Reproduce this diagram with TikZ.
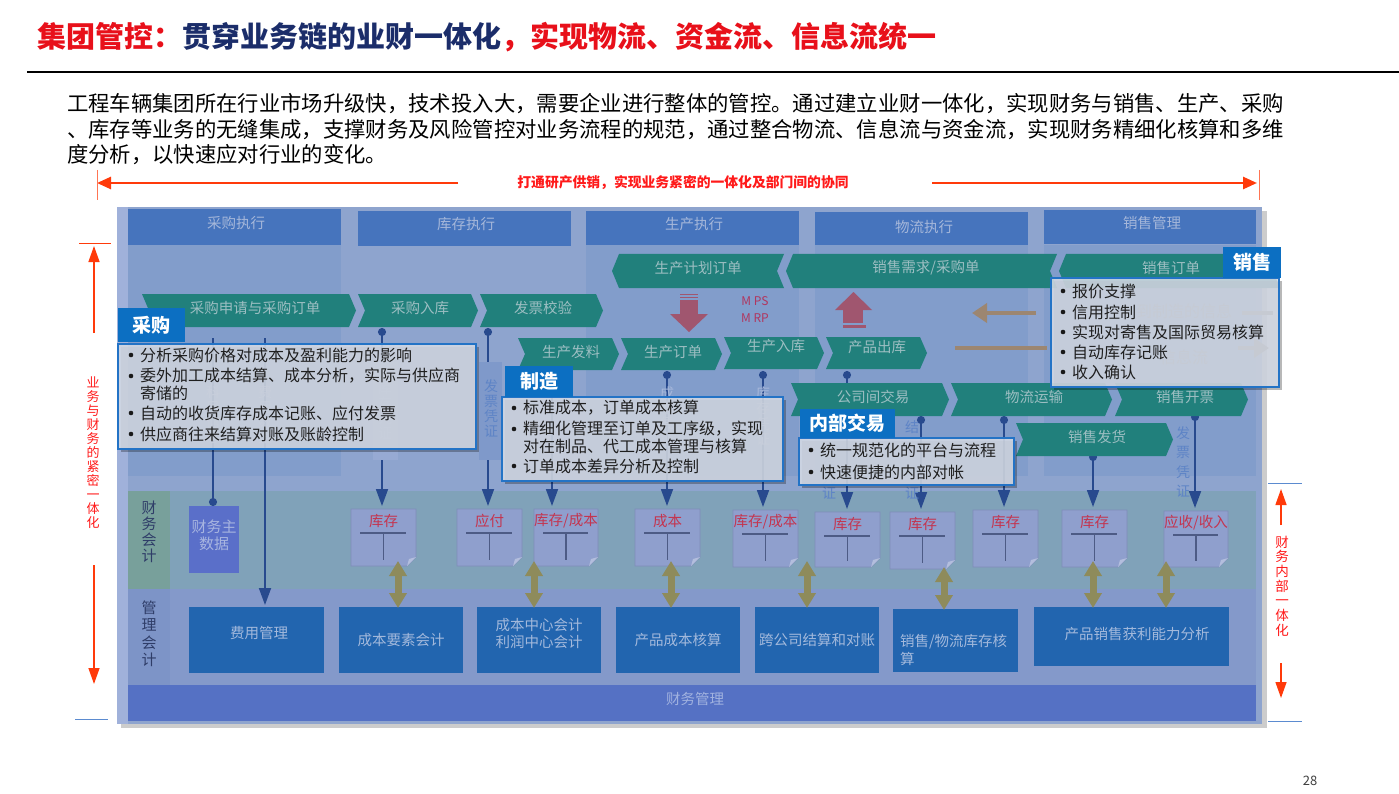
\documentclass[tikz,border=0pt]{standalone}
\usepackage{fontspec}
\setmainfont{Noto Sans CJK SC}
\usetikzlibrary{arrows.meta,calc}
\definecolor{titlered}{HTML}{E8101A}
\definecolor{titlenavy}{HTML}{1B2D6A}
\definecolor{sidered}{HTML}{FF3A0A}
\definecolor{sidetxt}{HTML}{FF1A1A}
\definecolor{sideblue}{HTML}{5B8BD0}
\definecolor{panelbg}{HTML}{8EA4CE}
\definecolor{paneledge}{HTML}{A0B1DA}
\definecolor{colbg}{HTML}{829DCB}
\definecolor{colhdr}{HTML}{4674BD}
\definecolor{hdrtxt}{HTML}{A5B7DA}
\definecolor{chevfill}{HTML}{21807C}
\definecolor{chevtext}{HTML}{9CBEC2}
\definecolor{tabblue}{HTML}{0C6FC2}
\definecolor{callfill}{HTML}{D3D9E4}
\definecolor{callline}{HTML}{2373C6}
\definecolor{connblue}{HTML}{284A8E}
\definecolor{docfill}{HTML}{8F9FCD}
\definecolor{docedge}{HTML}{7F8DB9}
\definecolor{docfold}{HTML}{B3BEDD}
\definecolor{docred}{HTML}{C4344F}
\definecolor{docT}{HTML}{4D5B85}
\definecolor{faband}{HTML}{80A2B9}
\definecolor{facell}{HTML}{78A09B}
\definecolor{maband}{HTML}{8499CA}
\definecolor{macell}{HTML}{7D94C7}
\definecolor{celltxt}{HTML}{2F3D68}
\definecolor{mboxfill}{HTML}{2265AF}
\definecolor{mboxtxt}{HTML}{A3B9DC}
\definecolor{fmbar}{HTML}{5571C4}
\definecolor{fmtxt}{HTML}{A1B2DF}
\definecolor{mdfill}{HTML}{5A6FC9}
\definecolor{mdtxt}{HTML}{A8B5E0}
\definecolor{olivearr}{HTML}{8E8B5B}
\definecolor{mauvearr}{HTML}{A0566F}
\definecolor{mpstxt}{HTML}{B0365F}
\definecolor{brownarr}{HTML}{9C8671}
\definecolor{vfaint}{HTML}{A6B7DA}
\definecolor{vblue}{HTML}{5E84C6}
\definecolor{stripA}{HTML}{97AAD3}
\definecolor{stripB}{HTML}{7F99CA}
\tikzset{
  txt/.style={inner sep=0pt, outer sep=0pt},
  para/.style={txt, anchor=west, text=black, font=\fontsize{21.35}{24}\selectfont},
  hdrtext/.style={txt, text=hdrtxt, font=\fontsize{14.5}{16}\selectfont},
  chevtxt/.style={txt, text=chevtext, font=\fontsize{14.5}{16}\selectfont},
  itemtext/.style={txt, anchor=west, text=black!88, font=\fontsize{16}{18}\selectfont},
  tabtext/.style={txt, text=white, font=\fontsize{19}{21}\selectfont\bfseries},
  doclabel/.style={txt, text=docred, font=\fontsize{14.5}{16}\selectfont},
  mbox/.style={anchor=north west, fill=mboxfill, inner sep=0pt, outer sep=0pt, text=mboxtxt, font=\fontsize{14.5}{17}\selectfont, align=center},
  mtext/.style={txt, text=mboxtxt, font=\fontsize{14.5}{18}\selectfont},
  celltext/.style={txt, text=celltxt, align=center},
  vtext/.style={txt, align=center},
  connline/.style={draw=connblue, line width=1.8pt},
  dotstart/.style={arrows={Circle[length=8pt]-Triangle[width=12pt,length=17pt]}, shorten >=3pt},
  arrend/.style={arrows={-Triangle[width=12pt,length=17pt]}, shorten >=2pt},
  olivedbl/.style={draw=olivearr, line width=7pt, arrows={Triangle[width=17pt,length=15pt]-Triangle[width=17pt,length=15pt]}},
  sidearr/.style={draw=sidered, line width=1.3pt, arrows={-Triangle[width=11pt,length=16pt]}},
  toparr/.style={draw=sidered, line width=2.6pt, arrows={-Triangle[width=12pt,length=14pt]}},
  sidetext/.style={txt, text=sidetxt, align=center},
  brownar/.style={draw=brownarr, line width=4.5pt, arrows={-Triangle[width=19pt,length=15pt]}},
  brownln/.style={draw=brownarr, line width=4.5pt},
}
% chevron pointing right: name, x1, x2, y1, y2, tx, ty, text
\newcommand\chevR[8]{%
  \fill[chevfill] (#2,#4) -- ({#3-7},#4) -- (#3,{(#4+#5)/2}) -- ({#3-7},#5) -- (#2,#5) -- ({#2+7},{(#4+#5)/2}) -- cycle;
  \node[chevtxt] (#1) at (#6,#7) {#8};}
% chevron pointing left
\newcommand\chevL[8]{%
  \fill[chevfill] (#2,{(#4+#5)/2}) -- ({#2+7},#4) -- (#3,#4) -- ({#3-7},{(#4+#5)/2}) -- (#3,#5) -- ({#2+7},#5) -- cycle;
  \node[chevtxt] (#1) at (#6,#7) {#8};}
% document with T account: name, x1, y1, x2, y2, label
\newcommand\docbox[6]{%
  \fill[docfill] (#2,#3) -- (#4,#3) -- (#4,{#5-9}) -- ({#4-9},#5) -- (#2,#5) -- cycle;
  \draw[docedge, line width=0.8pt] (#2,#3) -- (#4,#3) -- (#4,{#5-9}) -- ({#4-9},#5) -- (#2,#5) -- cycle;
  \fill[docfold] (#4,{#5-9}) -- ({#4-9},#5) -- ({#4-7},{#5-7}) -- cycle;
  \draw[docT, line width=1.3pt] ({#2+9},{#3+24}) -- ({#4-10},{#3+24});
  \draw[docT, line width=1.3pt] ({(#2+#4)/2},{#3+24}) -- ({(#2+#4)/2},{#5-6});
  \coordinate (#1-top) at ({(#2+#4)/2},#3);
  \coordinate (#1-bot) at ({(#2+#4)/2},#5);
  \node[doclabel] (#1) at ({(#2+#4)/2},{#3+12}) {#6};}
% callout box
\newcommand\callbox[4]{%
  \fill[black, opacity=0.28] ({#1+3},{#2+3}) rectangle ({#3+3},{#4+3});
  \filldraw[fill=callfill, fill opacity=0.88, draw=callline, line width=1.2pt] (#1,#2) rectangle (#3,#4);}
\newcommand\calltab[6]{%
  \fill[tabblue] (#2,#3) rectangle (#4,#5);
  \node[tabtext] (#1) at ({(#2+#4)/2},{(#3+#5)/2}) {#6};}
\newcommand\bitem[4]{%
  \fill[black!90] (#2,#3) circle (2.3);
  \node[itemtext] (#1) at ({#2+9},#3) {#4};}
\begin{document}
\begin{tikzpicture}[x=1pt,y=-1pt]
\useasboundingbox (0,0) rectangle (1399,794);
\fill[white] (0,0) rectangle (1399,794);

% ---------- title and intro ----------
\node[txt, anchor=west, font=\fontsize{29}{32}\selectfont\bfseries] (title) at (37,37)
 {\textcolor{titlered}{集团管控：}\textcolor{titlenavy}{贯穿业务链的业财一体化}\textcolor{titlered}{，实现物流、资金流、信息流统一}};
\draw[black, line width=1.3pt] (27,72) -- (1399,72);
\node[para] (p1) at (67,104) {工程车辆集团所在行业市场升级快，技术投入大，需要企业进行整体的管控。通过建立业财一体化，实现财务与销售、生产、采购};
\node[para] (p2) at (67,130) {、库存等业务的无缝集成，支撑财务及风险管控对业务流程的规范，通过整合物流、信息流与资金流，实现财务精细化核算和多维};
\node[para] (p3) at (67,155) {度分析，以快速应对行业的变化。};

% ---------- top band ----------
\node[txt, text=sidetxt, font=\fontsize{13.8}{15}\selectfont\bfseries] (band) at (683,183) {打通研产供销，实现业务紧密的一体化及部门间的协同};
\coordinate (tl1) at (458,183); \coordinate (tl2) at (97,183);
\coordinate (tr1) at (932,183); \coordinate (tr2) at (1257,183);
\draw[toparr] (tl1) -- (tl2);
\draw[toparr] (tr1) -- (tr2);
\draw[sidered!70, line width=0.8pt] (97,170) -- (97,200);
\draw[sidered!70, line width=0.8pt] (1259,170) -- (1259,200);

% ---------- panel ----------
\fill[black, opacity=0.2] (121,211) rectangle (1267,728);
\fill[panelbg] (117,207) rectangle (1262,724);
\fill[paneledge] (117,207) rectangle (128,724);
\foreach \a/\b in {128/341, 586/799, 815/1028, 1044/1256} \fill[colbg] (\a,245) rectangle (\b,476);
\fill[colhdr] (128,209) rectangle (341,245);
\node[hdrtext] (h1) at (236,223) {采购执行};
\fill[colhdr] (358,211) rectangle (571,246);
\node[hdrtext] (h2) at (466,224) {库存执行};
\fill[colhdr] (586,211) rectangle (799,245);
\node[hdrtext] (h3) at (694,224) {生产执行};
\fill[colhdr] (815,212) rectangle (1028,245);
\node[hdrtext] (h4) at (924,227) {物流执行};
\fill[colhdr] (1044,210) rectangle (1256,244);
\node[hdrtext] (h5) at (1152,223) {销售管理};

% ---------- bands ----------
\fill[faband] (128,491) rectangle (1256,589);
\fill[facell] (128,491) rectangle (170,589);
\fill[maband] (128,589) rectangle (1256,685);
\fill[macell] (128,589) rectangle (170,685);
\node[celltext, font=\fontsize{15}{16}\selectfont] (fa) at (149,532) {财\\务\\会\\计};
\node[celltext, font=\fontsize{15}{17.5}\selectfont] (ma) at (149,634) {管\\理\\会\\计};
\fill[fmbar] (128,685) rectangle (1256,721);
\node[txt, text=fmtxt, font=\fontsize{14.5}{16}\selectfont] (fm) at (695,699) {财务管理};

% ---------- master data & management boxes ----------
\node[anchor=north west, fill=mdfill, minimum width=50pt, minimum height=67pt, inner sep=0pt] (md) at (189,506) {};
\node[txt, text=mdtxt, align=center, font=\fontsize{15}{17}\selectfont] (mdt) at (214,535) {财务主\\数据};
\node[mbox, minimum width=135pt, minimum height=66pt] (m1) at (189,607) {};
\node[mtext] (m1t) at (259,633) {费用管理};
\node[mbox, minimum width=124pt, minimum height=66pt] (m2) at (339,607) {成本要素会计};
\node[mbox, minimum width=124pt, minimum height=66pt] (m3) at (477,607) {};
\node[mtext, align=center, font=\fontsize{14.5}{17}\selectfont] (m3t) at (539,633) {成本中心会计\\利润中心会计};
\node[mbox, minimum width=124pt, minimum height=66pt] (m4) at (616,607) {产品成本核算};
\node[mbox, minimum width=124pt, minimum height=66pt] (m5) at (755,607) {跨公司结算和对账};
\node[mbox, minimum width=125pt, minimum height=63pt] (m6) at (893,609) {};
\node[mtext, anchor=west, align=left] (m6t) at (900,650) {销售/物流库存核\\算};
\node[mbox, minimum width=195pt, minimum height=59pt] (m7) at (1034,607) {};
\node[mtext] (m7t) at (1137,634) {产品销售获利能力分析};

% ---------- documents ----------
\docbox{d1}{351}{509}{416}{566}{库存}
\docbox{d2}{457}{509}{522}{566}{应付}
\docbox{d3}{534}{509}{598}{566}{库存/成本}
\docbox{d4}{635}{509}{700}{566}{成本}
\docbox{d5}{733}{510}{798}{567}{库存/成本}
\docbox{d6}{815}{512}{880}{567}{库存}
\docbox{d7}{890}{512}{955}{569}{库存}
\docbox{d8}{973}{510}{1038}{567}{库存}
\docbox{d9}{1062}{510}{1127}{567}{库存}
\docbox{d10}{1164}{511}{1228}{567}{应收/收入}

% ---------- connectors ----------
\coordinate (k1) at (213,338); \coordinate (k2) at (265,338);
\coordinate (k3) at (382,328); \coordinate (k4) at (488,328);
\coordinate (k5) at (552,371); \coordinate (k6) at (667,371);
\coordinate (k7) at (763,371); \coordinate (k8) at (847,371);
\coordinate (k9) at (921,416); \coordinate (k10) at (1004,416);
\coordinate (k11) at (1093,453); \coordinate (k12) at (1195,413);
\draw[connline, arrows={-Circle[length=8pt]}] (k1) -- (k1 |- md.north);
\draw[connline, arrend] (k2) -- (k2 |- m1.north);
\draw[connline, dotstart] (k3) -- (k3 |- d1-top);
\draw[connline, dotstart] (k4) -- (k4 |- d2-top);
\draw[connline, dotstart] (k5) -- (k5 |- d3-top);
\draw[connline, dotstart] (k6) -- (k6 |- d4-top);
\draw[connline, dotstart] (k7) -- (k7 |- d5-top);
\draw[connline, dotstart] (k8) -- (k8 |- d6-top);
\draw[connline, dotstart] (k9) -- (k9 |- d7-top);
\draw[connline, dotstart] (k10) -- (k10 |- d8-top);
\draw[connline, dotstart] (k11) -- (k11 |- d9-top);
\draw[connline, dotstart] (k12) -- (k12 |- d10-top);

% ---------- voucher labels ----------
\fill[stripA] (373,362) rectangle (398,460);
\fill[stripB] (479,362) rectangle (502,460);
\node[vtext, text=vfaint, font=\fontsize{14}{15}\selectfont] (v1) at (213,415) {科\\目\\信\\息};
\node[vtext, text=vfaint, font=\fontsize{14}{15}\selectfont] (v2) at (265,415) {费\\用\\数\\据};
\node[vtext, text=vfaint, font=\fontsize{14}{15}\selectfont] (v3) at (385,410) {库\\存\\凭\\证};
\node[vtext, text=vblue, font=\fontsize{14}{15}\selectfont] (v4) at (491,408) {发\\票\\凭\\证};
\node[vtext, text=vfaint, font=\fontsize{14}{15}\selectfont] (v5) at (667,415) {成\\本\\凭\\证};
\node[vtext, text=vfaint, font=\fontsize{14}{15.5}\selectfont] (v6) at (763,416) {库\\存\\凭\\证};
\node[vtext, text=vblue, font=\fontsize{14}{15}\selectfont] (v7) at (829,470) {库\\存\\凭\\证};
\node[vtext, text=vblue, font=\fontsize{14}{22}\selectfont] (v8) at (912,460) {结\\算\\凭\\证};
\node[vtext, text=vblue, font=\fontsize{14}{19.5}\selectfont] (v9) at (1183,462) {发\\票\\凭\\证};

% ---------- chevrons ----------
\chevL{cl1}{612}{784}{254}{288}{698}{268}{生产计划订单}
\chevL{cl2}{786}{1057}{254}{288}{926}{268}{销售需求/采购单}
\chevL{cl3}{1059}{1280}{254}{288}{1171}{268}{销售订单}
\chevR{cr1}{142}{356}{294}{327}{255}{308}{采购申请与采购订单}
\chevR{cr2}{358}{478}{294}{327}{420}{308}{采购入库}
\chevR{cr3}{480}{603}{294}{327}{543}{308}{发票校验}
\chevR{cp1}{518}{619}{338}{370}{571}{352}{生产发料}
\chevR{cp2}{621}{722}{338}{370}{673}{352}{生产订单}
\chevR{cp3}{724}{824}{337}{369}{776}{346}{生产入库}
\chevR{cp4}{826}{927}{337}{369}{877}{347}{产品出库}
\chevR{cq1}{791}{949}{383}{416}{873}{397}{公司间交易}
\chevR{cq2}{951}{1112}{383}{416}{1034}{397}{物流运输}
\chevR{cq3}{1115}{1248}{383}{416}{1185}{397}{销售开票}
\chevR{cs1}{1016}{1173}{423}{456}{1097}{437}{销售发货}

% ---------- MPS / MRP arrows ----------
\fill[mauvearr] (680,293.5) rectangle (698,295);
\fill[mauvearr] (680,296.5) rectangle (698,298);
\fill[mauvearr] (680,299.5) rectangle (698,314);
\fill[mauvearr] (670,314) -- (708,314) -- (689,332) -- cycle;
\fill[mauvearr] (835,310) -- (872,310) -- (853.5,292) -- cycle;
\fill[mauvearr] (843,310) rectangle (863,323);
\fill[mauvearr] (843,325) rectangle (866,327.5);
\node[txt, text=mpstxt, font=\fontsize{12}{13}\selectfont] (mps) at (755,301) {M PS};
\node[txt, text=mpstxt, font=\fontsize{12}{13}\selectfont] (mrp) at (755,318) {M RP};

% ---------- information flow arrows (behind sales callout) ----------
\node[txt, text=black!45, font=\fontsize{16}{18}\selectfont] (f1) at (1184,311) {到制造的信息};
\node[txt, text=black!45, font=\fontsize{16}{18}\selectfont] (f2) at (1184,357) {信息流};
\coordinate (b1s) at (1036,313); \coordinate (b1e) at (972,313);
\coordinate (b1r) at (1242,313); \coordinate (b1q) at (1273,313);
\coordinate (b2s) at (955,348); \coordinate (b2e) at (1047,348);
\coordinate (b2r) at (1238,348); \coordinate (b2q) at (1269,348);
\draw[brownar] (b1s) -- (b1e);
\draw[brownln] (b1r) -- (b1q);
\draw[brownln] (b2s) -- (b2e);
\draw[brownar] (b2r) -- (b2q);

% ---------- olive double arrows ----------
\draw[olivedbl] ($(d1-bot)+(14.5,-5)$) -- ($(d1-bot |- m2.north)+(14.5,1)$);
\draw[olivedbl] ($(d3-bot)+(-32,-5)$) -- ($(d3-bot |- m3.north)+(-32,1)$);
\draw[olivedbl] ($(d4-bot)+(3.5,-5)$) -- ($(d4-bot |- m4.north)+(3.5,1)$);
\draw[olivedbl] ($(d5-bot)+(41.5,-6)$) -- ($(d5-bot |- m5.north)+(41.5,1)$);
\draw[olivedbl] ($(d7-bot)+(21.5,-2)$) -- ($(d7-bot |- m6.north)+(21.5,1)$);
\draw[olivedbl] ($(d9-bot)+(-1.5,-6)$) -- ($(d9-bot |- m7.north)+(-1.5,1)$);
\draw[olivedbl] ($(d10-bot)+(-30,-6)$) -- ($(d10-bot |- m7.north)+(-30,1)$);

% ---------- callouts ----------
\callbox{118}{344}{476}{449}
\calltab{tcg}{118}{308}{185}{342}{采购}
\bitem{i11}{131}{355}{分析采购价格对成本及盈利能力的影响}
\bitem{i12}{131}{376}{委外加工成本结算、成本分析，实际与供应商}
\node[itemtext] (i12b) at (140,393) {寄储的};
\bitem{i13}{131}{413}{自动的收货库存成本记账、应付发票}
\bitem{i14}{131}{434}{供应商往来结算对账及账龄控制}

\callbox{502}{397}{783}{481}
\calltab{tzz}{505}{366}{573}{397}{制造}
\bitem{i21}{514}{408}{标准成本，订单成本核算}
\bitem{i22}{514}{429}{精细化管理至订单及工序级，实现}
\node[itemtext] (i22b) at (523,446) {对在制品、代工成本管理与核算};
\bitem{i23}{514}{466}{订单成本差异分析及控制}

\callbox{799}{438}{1014}{485}
\calltab{tnb}{800}{409}{895}{438}{内部交易}
\bitem{i31}{811}{450}{统一规范化的平台与流程}
\bitem{i32}{811}{472}{快速便捷的内部对帐}

\callbox{1051}{278}{1279}{387}
\calltab{txs}{1223}{247}{1281}{278}{销售}
\bitem{i41}{1063}{291}{报价支撑}
\bitem{i42}{1063}{312}{信用控制}
\bitem{i43}{1063}{332}{实现对寄售及国际贸易核算}
\bitem{i44}{1063}{352}{自动库存记账}
\bitem{i45}{1063}{372}{收入确认}

% ---------- side labels ----------
\node[sidetext, font=\fontsize{13}{14}\selectfont] (lt) at (93,453) {业\\务\\与\\财\\务\\的\\紧\\密\\一\\体\\化};
\coordinate (la1) at (94,333); \coordinate (la2) at (94,246);
\coordinate (la3) at (94,565); \coordinate (la4) at (94,684);
\draw[sidearr] (la1) -- (la2);
\draw[sidearr] (la3) -- (la4);
\draw[sidered, line width=1pt] (79,244) -- (111,244);
\draw[sideblue, line width=1pt] (75,719) -- (108,719);

\node[sidetext, font=\fontsize{13.5}{14.7}\selectfont] (rt) at (1282,586) {财\\务\\内\\部\\一\\体\\化};
\coordinate (ra1) at (1281,525); \coordinate (ra2) at (1281,489);
\coordinate (ra3) at (1281,663); \coordinate (ra4) at (1281,698);
\draw[sidearr] (ra1) -- (ra2);
\draw[sidearr] (ra3) -- (ra4);
\draw[sideblue, line width=1pt] (1268,483) -- (1302,483);
\draw[sideblue, line width=1pt] (1268,721) -- (1302,721);

\node[txt, text=black!75, font=\fontsize{13}{14}\selectfont] (pg) at (1310,781) {28};
\end{tikzpicture}
\end{document}
